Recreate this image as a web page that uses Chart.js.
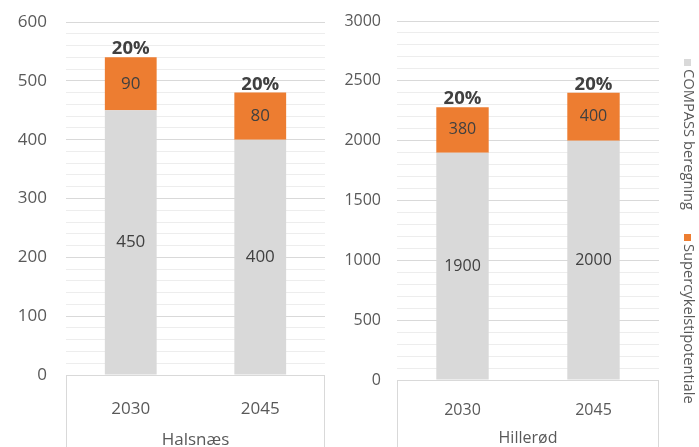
<!DOCTYPE html>
<html>
<head>
<meta charset="utf-8">
<script src="https://cdn.jsdelivr.net/npm/chart.js@4/dist/chart.umd.min.js"></script>
<style>
  html, body { margin: 0; padding: 0; background: #ffffff; }
  #wrap { position: relative; width: 699px; height: 447px; overflow: hidden; }
  canvas { position: absolute; top: 0; }
  #c1 { left: 0; }
  #c2 { left: 340px; }
</style>
</head>
<body>
<div id="wrap">
  <canvas id="c1" width="340" height="447"></canvas>
  <canvas id="c2" width="359" height="447"></canvas>
</div>
<script>
// ---- data ----
const categories = ['2030', '2045'];
const groups = ['Halsnæs', 'Hillerød'];
const seriesNames = ['COMPASS beregning', 'Supercykelstipotentiale'];
const halsnaesCompass = [450, 400];
const halsnaesSuper = [90, 80];
const halsnaesPct = ['20%', '20%'];
const hillerodCompass = [1900, 2000];
const hillerodSuper = [380, 400];
const hillerodPct = ['20%', '20%'];
const leftAxis = { max: 600, minorStep: 20, majorStep: 100 };
const rightAxis = { max: 3000, minorStep: 100, majorStep: 500 };

const GREY = '#d9d9d9';
const ORANGE = '#ed7d31';
const AXIS_TEXT = '#595959';
const LABEL_TEXT = '#404040';
const FONT = "'Open Sans', sans-serif";

function makeChart(id, opts) {
  const labelPlugin = {
    id: 'labels_' + id,
    afterDatasetsDraw(chart) {
      const ctx = chart.ctx;
      ctx.save();
      ctx.textAlign = 'center';
      ctx.textBaseline = 'middle';
      ctx.fillStyle = LABEL_TEXT;
      ctx.font = opts.labelSize + 'px ' + FONT;
      chart.data.datasets.forEach((ds, di) => {
        const meta = chart.getDatasetMeta(di);
        meta.data.forEach((el, i) => {
          const cy = (el.y + el.base) / 2;
          ctx.fillText(String(ds.data[i]), el.x, cy);
        });
      });
      const topMeta = chart.getDatasetMeta(chart.data.datasets.length - 1);
      ctx.font = 'bold 18.5px ' + FONT;
      ctx.textBaseline = 'alphabetic';
      topMeta.data.forEach((el, i) => {
        ctx.fillText(opts.pct[i], el.x, el.y - 3);
      });
      ctx.restore();
    },
    afterDraw(chart) {
      const ctx = chart.ctx;
      const a = chart.chartArea;
      ctx.save();
      ctx.strokeStyle = GREY;
      ctx.lineWidth = 1;
      ctx.beginPath();
      ctx.moveTo(Math.round(a.left) + 0.5, a.bottom);
      ctx.lineTo(Math.round(a.left) + 0.5, chart.height);
      ctx.moveTo(Math.round(a.right) - 0.5, a.bottom);
      ctx.lineTo(Math.round(a.right) - 0.5, chart.height);
      ctx.stroke();
      ctx.fillStyle = AXIS_TEXT;
      ctx.font = opts.tickSize + 'px ' + FONT;
      ctx.textAlign = 'center';
      ctx.textBaseline = 'middle';
      ctx.fillText(opts.group, (a.left + a.right) / 2, opts.groupY);
      if (opts.legend) {
        const items = [
          { text: seriesNames[0], color: GREY, y: 59 },
          { text: seriesNames[1], color: ORANGE, y: 234 }
        ];
        ctx.font = '14.7px ' + FONT;
        items.forEach(it => {
          ctx.fillStyle = it.color;
          ctx.fillRect(opts.legendX - 3, it.y, 7, 7);
          ctx.save();
          ctx.translate(opts.legendX + 1, it.y + 10);
          ctx.rotate(Math.PI / 2);
          ctx.fillStyle = AXIS_TEXT;
          ctx.textAlign = 'left';
          ctx.textBaseline = 'middle';
          ctx.fillText(it.text, 0, 0);
          ctx.restore();
        });
      }
      ctx.restore();
    }
  };

  return new Chart(document.getElementById(id), {
    type: 'bar',
    data: {
      labels: categories,
      datasets: [
        { label: seriesNames[0], data: opts.compass, backgroundColor: GREY, borderWidth: 0,
          categoryPercentage: 1, barPercentage: 0.4 },
        { label: seriesNames[1], data: opts.superData, backgroundColor: ORANGE, borderWidth: 0,
          categoryPercentage: 1, barPercentage: 0.4 }
      ]
    },
    options: {
      responsive: false,
      devicePixelRatio: 1,
      animation: false,
      layout: { padding: { top: opts.top, right: opts.padRight, left: 0, bottom: 0 } },
      plugins: { legend: { display: false }, tooltip: { enabled: false } },
      scales: {
        x: {
          stacked: true,
          grid: { display: false },
          border: { display: false },
          ticks: { color: AXIS_TEXT, font: { family: FONT, size: opts.tickSize }, padding: opts.xPad, maxRotation: 0 },
          afterFit(scale) { scale.height = opts.xHeight; }
        },
        y: {
          stacked: true,
          min: 0,
          max: opts.axis.max,
          border: { display: false },
          grid: {
            drawTicks: false,
            lineWidth: 1,
            color: (c) => (c.tick && c.tick.value % opts.axis.majorStep === 0) ? GREY : '#ededed'
          },
          ticks: {
            stepSize: opts.axis.minorStep,
            autoSkip: false,
            padding: opts.yPad,
            color: AXIS_TEXT,
            font: { family: FONT, size: opts.tickSize },
            callback: (v) => (v % opts.axis.majorStep === 0 ? v : '')
          },
          afterFit(scale) {
            scale.width = opts.yWidth;
            scale.paddingTop = 0;
            scale.paddingBottom = 0;
          }
        }
      }
    },
    plugins: [labelPlugin]
  });
}

makeChart('c1', {
  compass: halsnaesCompass, superData: halsnaesSuper, pct: halsnaesPct,
  group: groups[0], axis: leftAxis,
  top: 22, padRight: 15, xHeight: 72, yWidth: 66, yPad: 19, xPad: 16,
  tickSize: 17, labelSize: 17, groupY: 440, legend: false
});

makeChart('c2', {
  compass: hillerodCompass, superData: hillerodSuper, pct: hillerodPct,
  group: groups[1], axis: rightAxis,
  top: 21, padRight: 40, xHeight: 67, yWidth: 57, yPad: 16, xPad: 13,
  tickSize: 16, labelSize: 16, groupY: 438, legend: true, legendX: 347
});
</script>
</body>
</html>
